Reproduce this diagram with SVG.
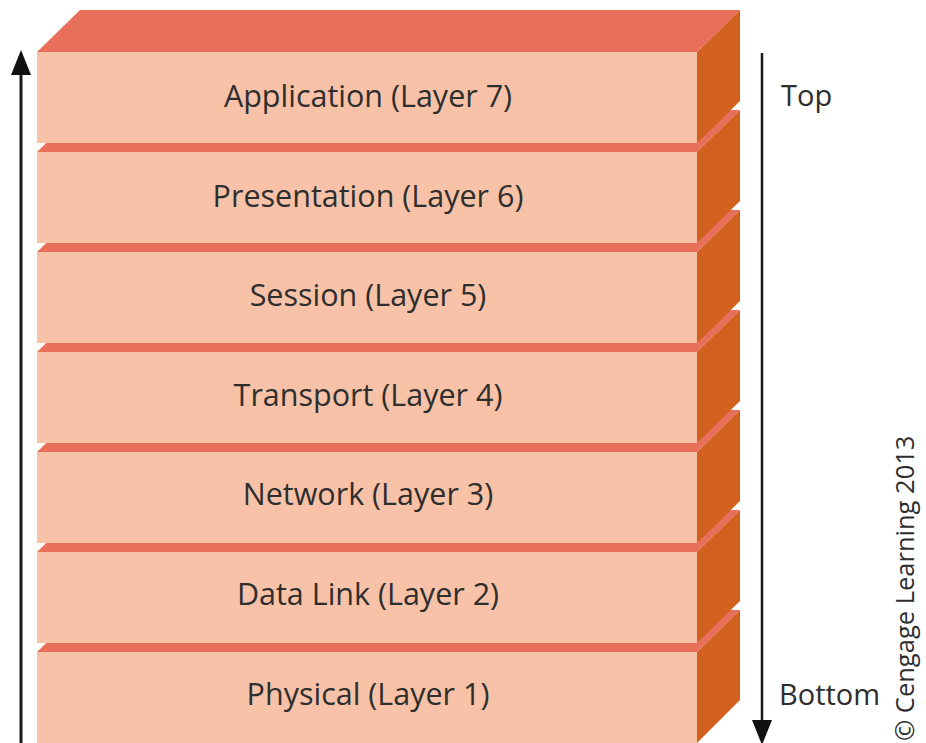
<svg xmlns="http://www.w3.org/2000/svg" width="926" height="743" viewBox="0 0 926 743">
  <style>
    .front { fill: #F7C2A7; }
    .top { fill: #E8705A; }
    .side { fill: #D2601F; }
    .label { font-family: "Open Sans", "Noto Sans", sans-serif; font-size: 30.5px; fill: #2e2e2e; text-anchor: middle; }
    .side-label { font-family: "Open Sans", "Noto Sans", sans-serif; font-size: 29px; fill: #2e2e2e; }
    .credit { font-family: "Open Sans", "Noto Sans", sans-serif; font-size: 25.5px; fill: #2e2e2e; }
    .axis { stroke: #1a1a1a; fill: none; }
  </style>
  <defs>
    <marker id="head" viewBox="0 0 25 20" refX="0" refY="10" markerWidth="25" markerHeight="20" markerUnits="userSpaceOnUse" orient="auto">
      <path d="M0,0 L25,10 L0,20 z" fill="#111"/>
    </marker>
  </defs>

  <rect width="926" height="743" fill="#ffffff"/>

  <!-- Layer boxes, drawn bottom-up so each upper box covers the one below -->
  <g id="layer-1">
    <polygon class="top" points="37,652 697,652 740,610 80,610"/>
    <polygon class="side" points="697,652 740,610 740,700 697,743"/>
    <rect class="front" x="37" y="652" width="660" height="91"/>
    <text class="label" x="368" y="705">Physical (Layer 1)</text>
  </g>
  <g id="layer-2">
    <polygon class="top" points="37,552 697,552 740,510 80,510"/>
    <polygon class="side" points="697,552 740,510 740,601 697,643"/>
    <rect class="front" x="37" y="552" width="660" height="91"/>
    <text class="label" x="368" y="605">Data Link (Layer 2)</text>
  </g>
  <g id="layer-3">
    <polygon class="top" points="37,452 697,452 740,410 80,410"/>
    <polygon class="side" points="697,452 740,410 740,501 697,543"/>
    <rect class="front" x="37" y="452" width="660" height="91"/>
    <text class="label" x="368" y="505">Network (Layer 3)</text>
  </g>
  <g id="layer-4">
    <polygon class="top" points="37,352 697,352 740,310 80,310"/>
    <polygon class="side" points="697,352 740,310 740,401 697,443"/>
    <rect class="front" x="37" y="352" width="660" height="91"/>
    <text class="label" x="368" y="406">Transport (Layer 4)</text>
  </g>
  <g id="layer-5">
    <polygon class="top" points="37,252 697,252 740,210 80,210"/>
    <polygon class="side" points="697,252 740,210 740,301 697,343"/>
    <rect class="front" x="37" y="252" width="660" height="91"/>
    <text class="label" x="368" y="306">Session (Layer 5)</text>
  </g>
  <g id="layer-6">
    <polygon class="top" points="37,152 697,152 740,110 80,110"/>
    <polygon class="side" points="697,152 740,110 740,201 697,243"/>
    <rect class="front" x="37" y="152" width="660" height="91"/>
    <text class="label" x="368" y="207">Presentation (Layer 6)</text>
  </g>
  <g id="layer-7">
    <polygon class="top" points="37,52 697,52 740,10 80,10"/>
    <polygon class="side" points="697,52 740,10 740,101 697,143"/>
    <rect class="front" x="37" y="52" width="660" height="91"/>
    <text class="label" x="368" y="107">Application (Layer 7)</text>
  </g>

  <!-- Direction arrows -->
  <g id="connectors">
    <line class="axis" x1="21" y1="743" x2="21" y2="75" stroke-width="3" marker-end="url(#head)"/>
    <line class="axis" x1="762" y1="53" x2="762" y2="720" stroke-width="2.5" marker-end="url(#head)"/>
  </g>

  <g id="labels">
    <text class="side-label" x="781" y="106">Top</text>
    <text class="side-label" x="779" y="705">Bottom</text>
    <text class="credit" transform="translate(914,741) rotate(-90)">© Cengage Learning 2013</text>
  </g>
</svg>
